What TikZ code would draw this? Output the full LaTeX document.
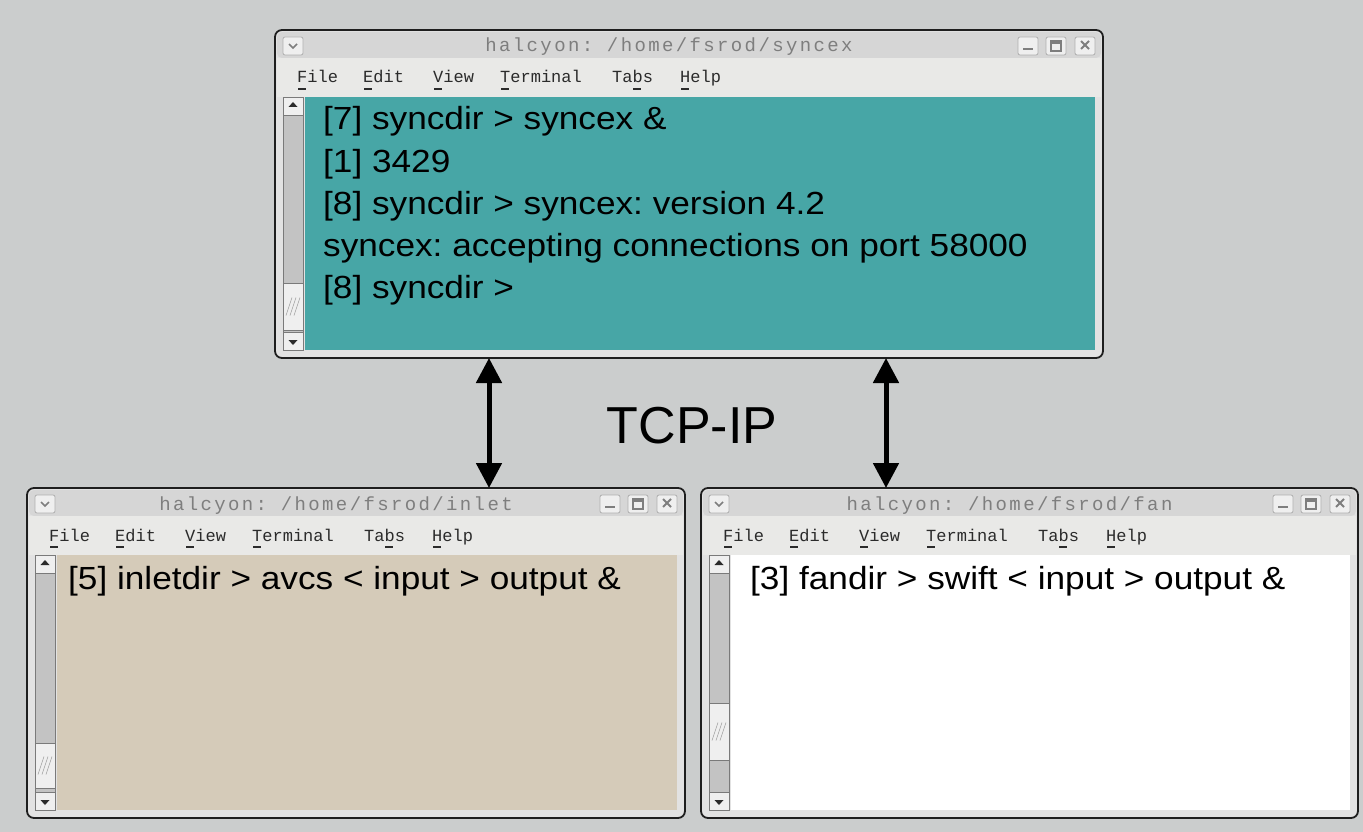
\documentclass[tikz,border=0pt]{standalone}
\usepackage{fontspec}
\usetikzlibrary{arrows.meta,calc,positioning}
\newfontfamily\termfont[FakeStretch=1.1]{Liberation Sans}
\newfontfamily\menufont{Liberation Mono}
\newfontfamily\titlefont[LetterSpace=12.5]{Liberation Mono}
\newfontfamily\labelfont{Liberation Sans}
\frenchspacing
\definecolor{wallgray}{HTML}{CBCDCD}
\definecolor{winedge}{HTML}{1E1E1E}
\definecolor{winface}{HTML}{E2E2E2}
\definecolor{bargray}{HTML}{D6D6D6}
\definecolor{menugray}{HTML}{E9E9E7}
\definecolor{syncteal}{HTML}{47A6A6}
\definecolor{inletbeige}{HTML}{D5CBB9}
\definecolor{troughgray}{HTML}{C3C3C3}
\definecolor{sbedge}{HTML}{7A7A7A}
\definecolor{buttongray}{HTML}{EFEFEF}
\definecolor{titleink}{HTML}{7E7E7E}
\definecolor{menuink}{HTML}{2B2B2B}

\tikzset{
  winframe/.style={draw=winedge, fill=winface, line width=1.8pt, rounded corners=7pt,
    inner sep=0pt, outer sep=0pt, anchor=north west},
  titlebar/.style={fill=bargray},
  menubar/.style={fill=menugray},
  sbtrough/.style={fill=troughgray, draw=sbedge, line width=0.8pt},
  sbbutton/.style={fill=buttongray, draw=sbedge, line width=0.8pt},
  tbbutton/.style={fill=buttongray, draw=sbedge!60, line width=0.8pt, rounded corners=2pt},
  tbink/.style={draw=titleink, line width=1.6pt},
  grip/.style={draw=sbedge!70, line width=0.6pt},
  termtext/.style={anchor=base west, inner sep=0pt, font=\termfont\fontsize{32}{38}\selectfont},
  menutext/.style={anchor=base west, inner sep=0pt, text=menuink, font=\menufont\fontsize{17}{20}\selectfont},
  titletext/.style={anchor=base, inner sep=0pt, text=titleink, font=\titlefont\fontsize{19}{22}\selectfont},
  link/.style={line width=5pt, {Triangle[width=25pt,length=25pt]}-{Triangle[width=25pt,length=25pt]}},
}

% #1 name, #2-#5 frame corners, #6 title, #7 body colour, #8/#9 thumb top/bottom
\newcommand{\termwindow}[9]{%
  \pgfmathsetmacro\winw{#4-#2}
  \pgfmathsetmacro\winh{#5-#3}
  \node[winframe, minimum width=\winw pt, minimum height=\winh pt] (#1) at (#2,#3) {};
  \fill[titlebar, rounded corners=5pt] ($(#1.north west)+(2,2)$) rectangle ($(#1.north east)+(-2,28)$);
  \fill[menubar] ($(#1.north west)+(2,28)$) rectangle ($(#1.north east)+(-2,67)$);
  \fill[#7] ($(#1.north west)+(30,67)$) rectangle ($(#1.south east)+(-8,-8)$);
  % title bar buttons
  \filldraw[tbbutton] ($(#1.north west)+(8,7)$) rectangle ($(#1.north west)+(28,25)$);
  \draw[tbink] ($(#1.north west)+(14,14)$) -- ++(4,4) -- ++(4,-4);
  \filldraw[tbbutton] ($(#1.north east)+(-85,7)$) rectangle ($(#1.north east)+(-65,25)$);
  \draw[tbink, line width=2.5pt] ($(#1.north east)+(-80,19)$) -- ++(10,0);
  \filldraw[tbbutton] ($(#1.north east)+(-57,7)$) rectangle ($(#1.north east)+(-37,25)$);
  \draw[tbink] ($(#1.north east)+(-52,11)$) rectangle ($(#1.north east)+(-42,21)$);
  \draw[tbink, line width=2.5pt] ($(#1.north east)+(-52,12.5)$) -- ++(10,0);
  \filldraw[tbbutton] ($(#1.north east)+(-28,7)$) rectangle ($(#1.north east)+(-8,25)$);
  \draw[tbink, line width=2pt] ($(#1.north east)+(-22,11)$) -- ++(8,8) ($(#1.north east)+(-14,11)$) -- ++(-8,8);
  \node[titletext] (#1-title) at ({(#2+#4)/2-20},{#3+22}) {#6};
  % menu
  \foreach \entry/\dx in {File/22, Edit/88, View/158, Terminal/225, Tabs/337, Help/405}
    \node[menutext] (#1-\entry) at ({#2+\dx},{#3+53}) {\entry};
  \foreach \dx in {22, 88, 158, 225, 357.4, 405}
    \draw[menuink, line width=1.3pt] ({#2+\dx+1},{#3+59}) -- ++(8,0);
  % scrollbar
  \filldraw[sbtrough] ($(#1.north west)+(8,67)$) rectangle ($(#1.south west)+(28,-8)$);
  \filldraw[sbbutton] ($(#1.north west)+(8,67)$) rectangle ($(#1.north west)+(28,85)$);
  \fill[menuink] ($(#1.north west)+(18,72)$) -- ++(-4.5,5) -- ++(9,0) -- cycle;
  \filldraw[sbbutton] ($(#1.south west)+(8,-26)$) rectangle ($(#1.south west)+(28,-8)$);
  \fill[menuink] ($(#1.south west)+(18,-13)$) -- ++(-4.5,-5) -- ++(9,0) -- cycle;
  \filldraw[sbbutton] ({#2+8},#8) rectangle ({#2+28},#9);
  \foreach \d in {-4,0,4}
    \draw[grip] ({#2+15+\d},{(#8+#9)/2+9}) -- ++(6,-18);
}

\begin{document}
\begin{tikzpicture}[x=1pt, y=-1pt]
  \useasboundingbox (0,0) rectangle (1363,832);
  \fill[wallgray] (0,0) rectangle (1363,832);
  % Define windows
  \termwindow{sync}{275}{30}{1103}{358}{halcyon: /home/fsrod/syncex}{syncteal}{283}{330}
  \termwindow{inlet}{27}{488}{685}{818}{halcyon: /home/fsrod/inlet}{inletbeige}{743}{788}
  \termwindow{fan}{701}{488}{1358}{818}{halcyon: /home/fsrod/fan}{white}{703}{760}
  % terminal output
  \foreach \txt [count=\i] in {{[7] syncdir > syncex \&}, {[1] 3429},
      {[8] syncdir > syncex: version 4.2}, {syncex: accepting connections on port 58000},
      {[8] syncdir >}}
    \node[termtext] (sync-line\i) at (323,{130+42*(\i-1)}) {\txt};
  \node[termtext] (inlet-line1) at (68,589) {[5] inletdir > avcs < input > output \&};
  \node[termtext] (fan-line1) at (750,589) {[3] fandir > swift < input > output \&};
  \node[anchor=base, inner sep=0pt, font=\labelfont\fontsize{52}{60}\selectfont] (tcpip) at (692,443) {TCP-IP};
  % Connect the windows
  \coordinate (leftlink) at (489,0);
  \coordinate (rightlink) at (886,0);
  \draw[link] (sync.south -| leftlink) -- (inlet.north -| leftlink);
  \draw[link] (sync.south -| rightlink) -- (fan.north -| rightlink);
\end{tikzpicture}
\end{document}
